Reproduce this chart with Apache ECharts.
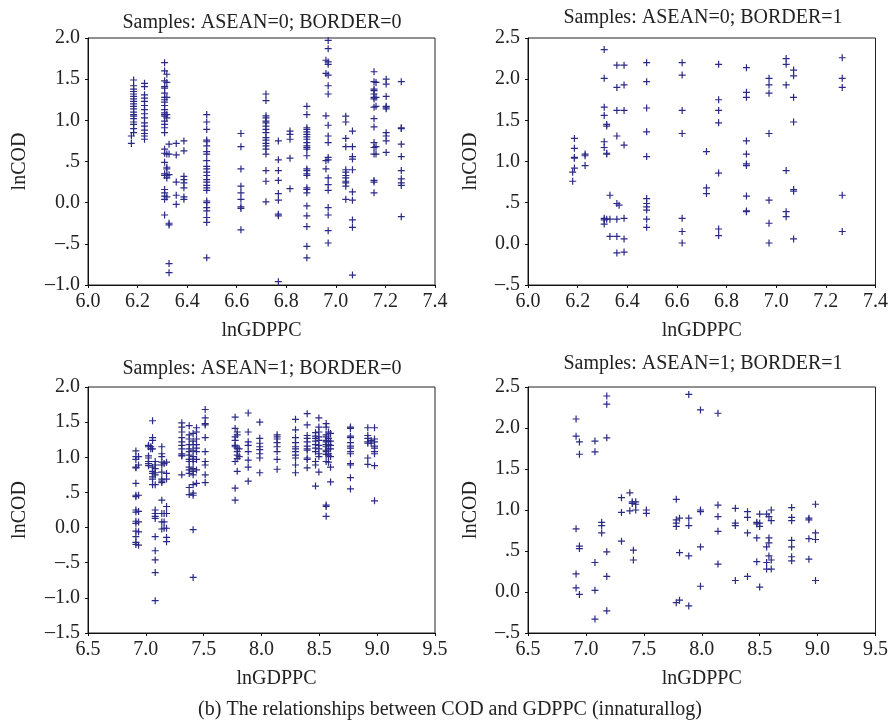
<!DOCTYPE html>
<html>
<head>
<meta charset="utf-8">
<title>COD vs GDPPC</title>
<script src="https://cdn.jsdelivr.net/npm/echarts@6/dist/echarts.min.js"></script>
<style>
  html, body { margin: 0; padding: 0; background: #fff; }
  #chart { width: 891px; height: 721px; }
</style>
</head>
<body>
<div id="chart"></div>
<script>
// Panel titles and caption
const panelTitles = [
  'Samples: ASEAN=0; BORDER=0',
  'Samples: ASEAN=0; BORDER=1',
  'Samples: ASEAN=1; BORDER=0',
  'Samples: ASEAN=1; BORDER=1'
];
const caption = '(b) The relationships between COD and GDPPC (innaturallog)';

// Tick labels
const xTicksTop = ['6.0', '6.2', '6.4', '6.6', '6.8', '7.0', '7.2', '7.4'];
const xTicksBottom = ['6.5', '7.0', '7.5', '8.0', '8.5', '9.0', '9.5'];
const yTicksP1 = ['\u20131.0', '\u2013.5', '0.0', '.5', '1.0', '1.5', '2.0'];
const yTicksP2 = ['\u2013.5', '0.0', '.5', '1.0', '1.5', '2.0', '2.5'];
const yTicksP3 = ['\u20131.5', '\u20131.0', '\u2013.5', '0.0', '.5', '1.0', '1.5', '2.0'];
const yTicksP4 = ['\u2013.5', '0.0', '.5', '1.0', '1.5', '2.0', '2.5'];

// Panel 1: ASEAN=0; BORDER=0 — lnGDPPC column and the lnCOD values in it
const p1X = [6.175, 6.184, 6.228, 6.309, 6.318, 6.327, 6.356, 6.387, 6.479, 6.617,
  6.718, 6.768, 6.815, 6.883, 6.960, 6.969, 7.040, 7.067, 7.154, 7.162, 7.203, 7.264];
const p1Y = [
  [0.81, 0.72],
  [1.49, 1.42, 1.38, 1.35, 1.32, 1.29, 1.26, 1.23, 1.2, 1.17, 1.14, 1.1, 1.07, 1.05, 1.02, 0.98, 0.95, 0.9, 0.85],
  [1.45, 1.41, 1.31, 1.27, 1.23, 1.18, 1.13, 1.08, 1.03, 0.97, 0.93, 0.88, 0.84, 0.81, 0.77],
  [1.70, 1.60, 1.48, 1.41, 1.39, 1.33, 1.28, 1.25, 1.22, 1.18, 1.13, 1.09, 1.07, 1.05, 0.99, 0.95, 0.91, 0.85,
    0.65, 0.60, 0.49, 0.35, 0.33, 0.16, 0.12, 0.08, 0.04, -0.15],
  [1.56, 1.46, 1.28, 1.07, 1.03, 0.59, 0.43, 0.41, 0.33, 0.30, 0.07],
  [0.71, 0.59, 0.34, -0.25, -0.27, -0.74, -0.85],
  [0.72, 0.58, 0.25, 0.09, -0.02],
  [0.75, 0.63, 0.32, 0.28, 0.24, 0.18, 0.07, 0.04],
  [1.07, 0.98, 0.89, 0.76, 0.74, 0.69, 0.62, 0.59, 0.51, 0.44, 0.41, 0.37, 0.33, 0.28, 0.25, 0.21, 0.18, 0.15,
    0.02, 0.00, -0.06, -0.10, -0.18, -0.24, -0.67],
  [0.84, 0.68, 0.41, 0.20, 0.12, 0.04, -0.05, -0.07, -0.33],
  [1.32, 1.24, 1.055, 1.03, 0.99, 0.97, 0.93, 0.89, 0.85, 0.79, 0.76, 0.72, 0.69, 0.65, 0.59, 0.39, 0.26, 0.01],
  [0.75, 0.52, 0.39, 0.27, 0.11, 0.03, -0.14, -0.16, -0.96],
  [0.87, 0.83, 0.77, 0.54, 0.17],
  [1.17, 1.07, 0.91, 0.89, 0.86, 0.83, 0.80, 0.77, 0.73, 0.69, 0.67, 0.65, 0.57, 0.41, 0.39, 0.35, 0.33,
    0.18, 0.16, 0.12, -0.04, -0.16, -0.29, -0.53, -0.67],
  [1.73, 1.57, 1.055, 0.51, 0.41],
  [1.97, 1.87, 1.71, 1.68, 1.55, 1.42, 1.32, 0.94, 0.81, 0.73, 0.55, 0.52, 0.30, 0.22, 0.15, -0.06, -0.15, -0.34, -0.49],
  [1.05, 0.98, 0.78, 0.68, 0.40, 0.37, 0.33, 0.30, 0.26, 0.24, 0.20, 0.04],
  [0.87, 0.68, 0.56, 0.53, 0.40, 0.13, 0.03, -0.21, -0.30, -0.88],
  [1.59, 1.47, 1.38, 1.36, 1.32, 1.28, 1.26, 1.16, 1.02, 0.92, 0.73, 0.67, 0.59, 0.27, 0.25, 0.12],
  [1.46, 1.28, 1.17, 0.68, 0.59],
  [1.50, 1.44, 1.29, 1.17, 1.16, 1.14, 0.85, 0.81, 0.75, 0.61],
  [1.47, 0.91, 0.90, 0.71, 0.56, 0.39, 0.29, 0.24, 0.21, -0.17]
];

// Panel 2: ASEAN=0; BORDER=1
const p2X = [6.180, 6.187, 6.230, 6.307, 6.317, 6.330, 6.358, 6.367, 6.387, 6.478,
  6.621, 6.719, 6.768, 6.880, 6.971, 7.040, 7.070, 7.266];
const p2Y = [
  [0.87, 0.76],
  [1.28, 1.16, 1.05, 1.04, 0.92],
  [1.09, 1.07, 0.95],
  [2.36, 2.01, 1.66, 1.56, 1.24, 1.17, 0.31, 0.29, 0.24],
  [1.45, 1.43, 1.10, 1.09, 0.30],
  [0.59, 0.30, 0.09],
  [2.17, 1.90, 1.62, 1.31, 0.49, 0.30, 0.09, -0.11],
  [0.47],
  [2.17, 1.93, 1.62, 1.20, 0.31, 0.06, -0.10],
  [2.20, 1.97, 1.65, 1.36, 1.06, 0.55, 0.49, 0.45, 0.41, 0.30, 0.20],
  [2.20, 2.05, 1.62, 1.34, 0.31, 0.15, 0.01],
  [1.12, 0.68, 0.61],
  [2.18, 1.75, 1.62, 1.47, 0.86, 0.18, 0.10],
  [2.14, 1.84, 1.78, 1.25, 1.09, 0.97, 0.95, 0.58, 0.40, 0.39],
  [2.01, 1.93, 1.83, 1.34, 0.53, 0.25, 0.01],
  [2.25, 2.18, 1.93, 0.89, 0.39, 0.33],
  [2.11, 2.04, 1.78, 1.48, 0.66, 0.64, 0.06],
  [2.26, 2.01, 1.90, 0.59, 0.15]
];

// Panel 3: ASEAN=1; BORDER=0
const p3X = [6.914, 6.937, 7.023, 7.043, 7.058, 7.081, 7.138, 7.158, 7.179, 7.311, 7.375, 7.409, 7.438,
  7.513, 7.772, 7.790, 7.807, 7.885, 7.985, 8.135, 8.294, 8.395, 8.467, 8.496, 8.559, 8.579, 8.597,
  8.769, 8.919, 8.948, 8.977];
const p3Y = [
  [1.09, 1.01, 0.97, 0.86, 0.85, 0.63, 0.46, 0.44, 0.25, 0.22, 0.09, 0.06, -0.05, -0.13, -0.21, -0.24],
  [1.01, 0.89, 0.46, 0.23, 0.08, -0.06, -0.25],
  [1.17, 1.15, 1.02, 0.99, 0.94, 0.91, 0.88],
  [1.15, 1.12],
  [1.52, 1.28, 1.24, 1.12, 0.86, 0.80, 0.77, 0.72, 0.69, 0.61],
  [0.94, 0.89, 0.84, 0.78, 0.75, 0.61, 0.25, 0.20, 0.16, 0.13, -0.13, -0.33, -0.46, -0.64, -1.04],
  [1.15, 1.05, 1.01, 0.93, 0.89, 0.79, 0.69, 0.66, 0.64, 0.39, 0.20, 0.08, -0.02],
  [0.91, 0.20, 0.08, -0.01],
  [0.93, 0.77, 0.69, 0.30, 0.20, -0.01, -0.14, -0.20],
  [1.49, 1.43, 1.36, 1.28, 1.22, 1.17, 1.12, 1.05, 1.03, 1.02, 0.75],
  [1.45, 1.32, 1.26, 1.18, 1.12, 1.08, 1.03, 0.97, 0.94, 0.86, 0.82, 0.77, 0.57, 0.47],
  [1.34, 1.23, 1.18, 1.10, 1.01, 0.97, 0.94, 0.84, 0.80, 0.75, 0.61, 0.49, 0.46, -0.03, -0.71],
  [1.42, 1.36, 1.26, 1.18, 1.13, 1.08, 0.97, 0.82, 0.63],
  [1.68, 1.56, 1.48, 1.46, 1.28, 1.08, 0.94, 0.89, 0.75, 0.64],
  [1.57, 1.41, 1.29, 1.24, 1.17, 1.15, 0.94, 0.56, 0.39],
  [1.36, 1.32, 1.13, 1.08, 1.03, 0.98, 0.80],
  [1.12, 1.01],
  [1.63, 1.36, 1.22, 1.17, 1.08, 0.96, 0.86, 0.66],
  [1.50, 1.27, 1.20, 1.15, 1.11, 1.05, 0.99, 0.78],
  [1.32, 1.29, 1.26, 1.21, 1.15, 1.08, 0.97, 0.83],
  [1.54, 1.39, 1.28, 1.21, 1.15, 1.12, 1.08, 1.03, 0.99, 0.89, 0.78],
  [1.62, 1.46, 1.31, 1.27, 1.22, 1.16, 1.12, 1.10, 0.99, 0.97, 0.85],
  [1.35, 1.30, 1.27, 1.23, 1.18, 1.13, 1.08, 0.94, 0.89, 0.59],
  [1.56, 1.43, 1.36, 1.29, 1.24, 1.17, 1.12, 1.05, 1.01, 0.79],
  [1.48, 1.43, 1.32, 1.29, 1.24, 1.22, 1.18, 1.15, 1.10, 1.08, 1.04, 0.94, 0.32, 0.30, 0.16],
  [1.36, 1.27, 1.23, 1.18, 1.12, 1.05, 1.02, 0.93],
  [1.34, 1.23, 1.17, 1.12, 1.01, 0.86, 0.65],
  [1.43, 1.41, 1.30, 1.28, 1.21, 1.16, 1.13, 1.08, 1.05, 0.91, 0.89, 0.71, 0.55],
  [1.42, 1.31, 1.27, 1.22, 1.20, 0.99, 0.90],
  [1.24, 1.20],
  [1.42, 1.26, 1.22, 1.16, 1.13, 1.08, 1.05, 0.88, 0.38]
];

// Panel 4: ASEAN=1; BORDER=1
const p4X = [6.915, 6.944, 7.078, 7.136, 7.180, 7.307, 7.379, 7.400, 7.410, 7.430, 7.522, 7.780,
  7.808, 7.888, 7.989, 8.140, 8.290, 8.395, 8.475, 8.500, 8.560, 8.580, 8.600, 8.776, 8.925, 8.982];
const p4Y = [
  [2.11, 1.90, 0.77, 0.22, 0.05],
  [1.83, 1.68, 0.56, 0.53, -0.03],
  [1.84, 1.71, 0.36, 0.02, -0.33],
  [0.85, 0.81, 0.72],
  [2.39, 2.29, 1.88, 0.49, 0.19, -0.23],
  [1.15, 0.97, 0.62],
  [1.21, 0.99],
  [1.10, 1.08],
  [0.51, 0.39],
  [1.10, 1.07, 1.00],
  [1.00, 0.96],
  [1.13, 0.88, 0.84, 0.80, -0.13],
  [0.90, 0.48, -0.10],
  [2.41, 0.90, 0.81, 0.44, -0.17],
  [2.22, 1.00, 0.98, 0.55, 0.07],
  [2.18, 1.06, 0.92, 0.74, 0.34],
  [1.02, 0.84, 0.81, 0.14],
  [0.98, 0.91, 0.72, 0.19],
  [0.85, 0.83, 0.66, 0.37],
  [0.95, 0.84, 0.80, 0.06],
  [0.95, 0.55, 0.36, 0.28],
  [0.92, 0.66, 0.60, 0.44],
  [1.00, 0.87, 0.39, 0.28],
  [1.03, 0.91, 0.87, 0.63, 0.55, 0.43, 0.38],
  [0.90, 0.88, 0.65, 0.40],
  [1.07, 0.72, 0.64, 0.14]
];

const FONT = '"Liberation Serif", "DejaVu Serif", serif';
const INK = '#222';
const MARK = '#2b2a86';
const PLUS = 'path://M2.9,0h1.2v2.9h2.9v1.2h-2.9v2.9h-1.2v-2.9h-2.9v-1.2h2.9z';

function columnsToPoints(xs, ys) {
  const pts = [];
  xs.forEach((x, i) => ys[i].forEach((y) => pts.push([x, y])));
  return pts;
}

const panels = [
  { grid: { left: 88, top: 38, width: 347, height: 247 }, x: [6.0, 7.4, 0.2, xTicksTop],
    y: [-1.0, 2.0, 0.5, yTicksP1], yGap: 58, xPad: 0, pts: columnsToPoints(p1X, p1Y),
    title: [262, 23] },
  { grid: { left: 528, top: 38, width: 350, height: 247 }, x: [6.0, 7.4, 0.2, xTicksTop],
    y: [-0.5, 2.5, 0.5, yTicksP2], yGap: 47, xPad: 0, pts: columnsToPoints(p2X, p2Y),
    title: [703, 18] },
  { grid: { left: 88, top: 387, width: 347, height: 246 }, x: [6.5, 9.5, 0.5, xTicksBottom],
    y: [-1.5, 2.0, 0.5, yTicksP3], yGap: 58, xPad: 30, pts: columnsToPoints(p3X, p3Y),
    title: [262, 369] },
  { grid: { left: 528, top: 387, width: 350, height: 246 }, x: [6.5, 9.5, 0.5, xTicksBottom],
    y: [-0.5, 2.5, 0.5, yTicksP4], yGap: 47, xPad: 0, pts: columnsToPoints(p4X, p4Y),
    title: [703, 364] }
];

function axisBase() {
  return {
    type: 'value',
    splitLine: { show: false },
    axisLine: { show: true, onZero: false, lineStyle: { color: '#111', width: 1 } },
    axisTick: { show: true, inside: false, length: 3, lineStyle: { color: '#111' } },
    nameTextStyle: { fontFamily: FONT, fontSize: 20, color: INK }
  };
}

const option = {
  animation: false,
  backgroundColor: '#fff',
  grid: panels.map((p) => Object.assign({
    show: true, borderColor: '#222', borderWidth: 1, backgroundColor: '#fff', containLabel: false
  }, p.grid)),
  xAxis: panels.map((p, i) => Object.assign(axisBase(), {
    gridIndex: i,
    min: p.x[0], max: p.x[1], interval: p.x[2],
    name: 'lnGDPPC', nameLocation: 'middle', nameGap: 36,
    nameTextStyle: { fontFamily: FONT, fontSize: 20, color: INK, padding: [0, 0, 0, p.xPad] },
    axisLabel: {
      fontFamily: FONT, fontSize: 20, color: INK, margin: 7,
      formatter: (v) => p.x[3][Math.round((v - p.x[0]) / p.x[2])]
    }
  })),
  yAxis: panels.map((p, i) => Object.assign(axisBase(), {
    gridIndex: i,
    min: p.y[0], max: p.y[1], interval: p.y[2],
    name: 'lnCOD', nameLocation: 'middle', nameGap: p.yGap, nameRotate: 90,
    axisLabel: {
      fontFamily: FONT, fontSize: 20, color: INK, margin: 8,
      formatter: (v) => p.y[3][Math.round((v - p.y[0]) / p.y[2])]
    }
  })),
  series: panels.map((p, i) => ({
    type: 'scatter',
    xAxisIndex: i,
    yAxisIndex: i,
    symbol: PLUS,
    symbolSize: 7,
    silent: true,
    itemStyle: { color: MARK, opacity: 1 },
    data: p.pts
  })),
  graphic: panels.map((p, i) => ({
    type: 'text',
    x: p.title[0],
    y: p.title[1],
    style: {
      text: panelTitles[i],
      font: '20px ' + FONT,
      fill: INK,
      align: 'center',
      verticalAlign: 'middle'
    }
  })).concat([{
    type: 'text',
    x: 450,
    y: 710,
    style: {
      text: caption,
      font: '20px ' + FONT,
      fill: INK,
      align: 'center',
      verticalAlign: 'middle'
    }
  }])
};

const chart = echarts.init(document.getElementById('chart'), null, { renderer: 'canvas' });
chart.setOption(option);
window.addEventListener('resize', () => chart.resize());
</script>
</body>
</html>
